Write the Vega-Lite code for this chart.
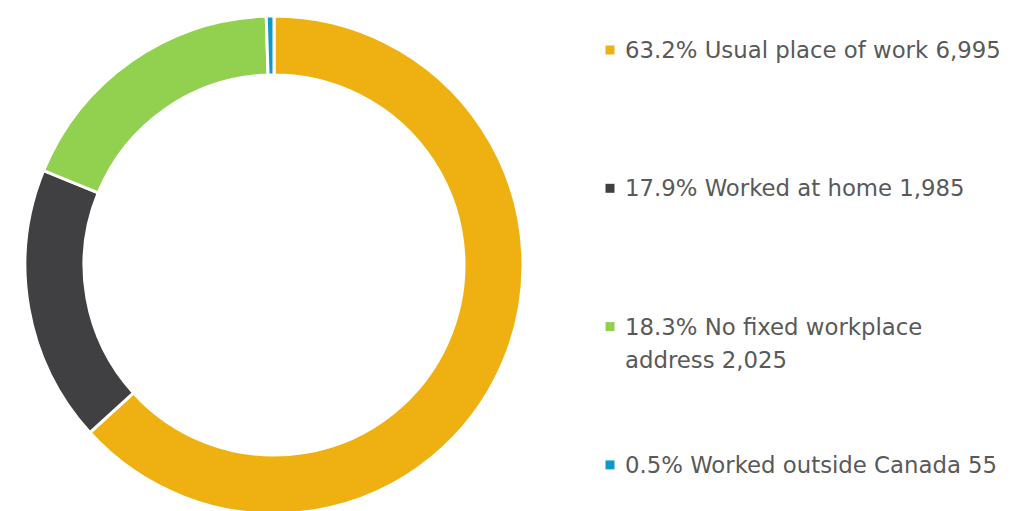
{
  "$schema": "https://vega.github.io/schema/vega-lite/v6.json",
  "padding": 0,
  "background": "white",
  "config": {"view": {"stroke": null}},
  "data": {"values": [
    {"rank": 0, "category": "Usual place of work", "value": 6995, "label": "63.2% Usual place of work 6,995"},
    {"rank": 1, "category": "Worked at home", "value": 1985, "label": "17.9% Worked at home 1,985"},
    {"rank": 2, "category": "No fixed workplace address", "value": 2025, "label": "18.3% No fixed workplace\naddress 2,025"},
    {"rank": 3, "category": "Worked outside Canada", "value": 55, "label": "0.5% Worked outside Canada 55"}
  ]},
  "spacing": 52,
  "hconcat": [
    {
      "width": 548,
      "height": 530,
      "mark": {"type": "arc", "outerRadius": 249, "innerRadius": 190, "stroke": "white", "strokeWidth": 3},
      "encoding": {
        "theta": {"field": "value", "type": "quantitative", "stack": true},
        "order": {"field": "rank", "type": "quantitative"},
        "color": {"field": "category", "type": "nominal", "legend": null,
          "scale": {"domain": ["Usual place of work", "Worked at home", "No fixed workplace address", "Worked outside Canada"],
                    "range": ["#EFB112", "#404042", "#92D050", "#0E9AC8"]}}
      }
    },
    {
      "width": 20,
      "height": 530,
      "encoding": {
        "y": {"field": "rank", "type": "quantitative", "axis": null,
          "scale": {"domain": [-0.3615, 3.4707], "reverse": true, "nice": false, "zero": false}},
        "color": {"field": "category", "type": "nominal", "legend": null,
          "scale": {"domain": ["Usual place of work", "Worked at home", "No fixed workplace address", "Worked outside Canada"],
                    "range": ["#EFB112", "#404042", "#92D050", "#0E9AC8"]}}
      },
      "layer": [
        {"mark": {"type": "point", "shape": "square", "filled": true, "size": 81, "opacity": 1}},
        {"mark": {"type": "text", "align": "left", "dx": 15, "baseline": "alphabetic", "dy": 8, "fontSize": 22.8, "font": "DejaVu Sans", "color": "#595959", "lineBreak": "\n", "lineHeight": 33},
         "encoding": {"text": {"field": "label"}, "color": {"value": "#595959"}}}
      ]
    }
  ]
}
